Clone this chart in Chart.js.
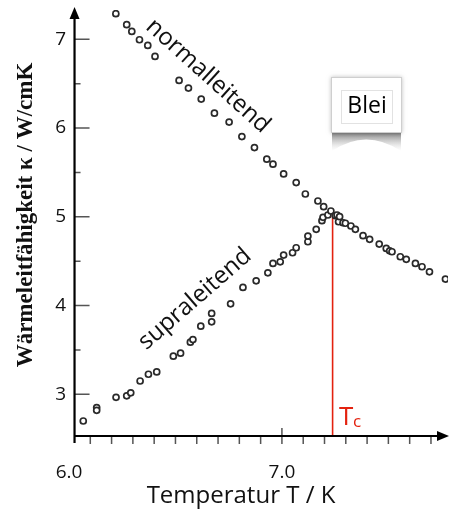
<!DOCTYPE html>
<html>
<head>
<meta charset="utf-8">
<script src="https://cdn.jsdelivr.net/npm/chart.js@4/dist/chart.umd.min.js"></script>
<style>
  html, body { margin: 0; padding: 0; background: #fff; }
  #wrap { width: 455px; height: 513px; }
</style>
</head>
<body>
<div id="wrap"><canvas id="chart" width="455" height="513"></canvas></div>
<script>
// Wärmeleitfähigkeit von Blei: normalleitend vs. supraleitend
const normalT = [6.220, 6.271, 6.295, 6.331, 6.370, 6.404, 6.517, 6.561, 6.621, 6.683,
  6.752, 6.812, 6.871, 6.929, 6.958, 7.008, 7.067, 7.110, 7.169, 7.196,
  7.230, 7.251, 7.259, 7.266, 7.271, 7.287, 7.298, 7.324, 7.345, 7.381,
  7.412, 7.457, 7.490, 7.506, 7.517, 7.556, 7.584, 7.627, 7.658, 7.693, 7.768];
const normalK = [7.289, 7.165, 7.089, 6.995, 6.931, 6.807, 6.536, 6.450, 6.326, 6.168,
  6.067, 5.904, 5.780, 5.649, 5.593, 5.483, 5.385, 5.257, 5.178, 5.114,
  5.065, 5.012, 5.020, 4.944, 5.001, 4.933, 4.927, 4.896, 4.859, 4.787,
  4.746, 4.693, 4.644, 4.617, 4.606, 4.550, 4.521, 4.475, 4.437, 4.380, 4.298];

const supraT = [6.067, 6.130, 6.130, 6.221, 6.271, 6.290, 6.334, 6.373, 6.412, 6.490,
  6.524, 6.570, 6.582, 6.619, 6.670, 6.670, 6.759, 6.817, 6.879, 6.934,
  6.958, 6.992, 7.008, 7.050, 7.067, 7.122, 7.122, 7.161, 7.188, 7.193, 7.216];
const supraK = [2.699, 2.850, 2.819, 2.966, 2.983, 3.017, 3.150, 3.226, 3.252, 3.429,
  3.463, 3.587, 3.617, 3.767, 3.816, 3.911, 4.019, 4.204, 4.279, 4.369,
  4.475, 4.493, 4.569, 4.595, 4.651, 4.719, 4.783, 4.859, 4.956, 4.994, 5.020];

const xTicks = [6.0, 7.0];
const yTicks = [3, 4, 5, 6, 7];
const xMinorStep = 0.1;
const yMinorTicks = [3.5, 4.5, 5.5, 6.5];

const Tc = 7.238;
const kTc = 5.02;
const yAxisAt = 6.026;

const sans = '"Open Sans", "Liberation Sans", sans-serif';

function pts(xs, ys) {
  return xs.map((x, i) => ({ x: x, y: ys[i] }));
}

// axes with arrows, tick marks, Tc line
const axesPlugin = {
  id: 'axes',
  beforeDatasetsDraw(chart) {
    const { ctx, chartArea: a, scales: { x, y } } = chart;
    const x0 = x.getPixelForValue(yAxisAt);
    const y0 = a.bottom;
    ctx.save();

    // red Tc line
    ctx.strokeStyle = '#e3220f';
    ctx.lineWidth = 1.6;
    ctx.beginPath();
    ctx.moveTo(x.getPixelForValue(Tc), y.getPixelForValue(kTc));
    ctx.lineTo(x.getPixelForValue(Tc), y0);
    ctx.stroke();

    // tick marks
    ctx.strokeStyle = '#555';
    ctx.lineWidth = 1.5;
    ctx.beginPath();
    for (let i = 1; i * xMinorStep + x.min < x.max - 0.05; i++) {
      const v = x.min + i * xMinorStep;
      const px = x.getPixelForValue(v);
      const major = xTicks.some(t => Math.abs(t - v) < 1e-6);
      ctx.moveTo(px, major ? y0 - 8 : y0);
      ctx.lineTo(px, y0 + 8);
    }
    yTicks.forEach(v => {
      const py = y.getPixelForValue(v);
      ctx.moveTo(x0, py);
      ctx.lineTo(x0 + 15, py);
    });
    yMinorTicks.forEach(v => {
      const py = y.getPixelForValue(v);
      ctx.moveTo(x0, py);
      ctx.lineTo(x0 + 6, py);
    });
    ctx.stroke();

    // axis lines
    ctx.strokeStyle = '#000';
    ctx.fillStyle = '#000';
    ctx.lineWidth = 2.2;
    ctx.beginPath();
    ctx.moveTo(x0, y0 + 7);
    ctx.lineTo(x0, a.top + 6);
    ctx.moveTo(x0 - 1, y0);
    ctx.lineTo(a.right - 6, y0);
    ctx.stroke();
    ctx.beginPath();
    ctx.moveTo(x0, a.top - 3);
    ctx.lineTo(x0 - 5, a.top + 9);
    ctx.lineTo(x0 + 5, a.top + 9);
    ctx.closePath();
    ctx.fill();
    ctx.beginPath();
    ctx.moveTo(a.right + 1, y0);
    ctx.lineTo(a.right - 11, y0 - 5);
    ctx.lineTo(a.right - 11, y0 + 5);
    ctx.closePath();
    ctx.fill();
    ctx.restore();
  },
  afterDraw(chart) {
    const { ctx } = chart;
    ctx.save();

    // axis titles
    ctx.fillStyle = '#111';
    ctx.font = '24px ' + sans;
    ctx.textAlign = 'center';
    ctx.textBaseline = 'alphabetic';
    ctx.fillText('Temperatur T / K', 241, 503);

    ctx.save();
    ctx.translate(32, 215);
    ctx.rotate(-Math.PI / 2);
    ctx.font = 'bold 23px "Liberation Serif", "DejaVu Serif", serif';
    ctx.fillText('Wärmeleitfähigkeit κ / W/cmK', 0, 0);
    ctx.restore();

    // curve labels
    ctx.font = '24px ' + sans;
    ctx.textBaseline = 'middle';
    ctx.save();
    ctx.translate(208, 76);
    ctx.rotate(42 * Math.PI / 180);
    ctx.fillText('normalleitend', 0, 0);
    ctx.restore();
    ctx.save();
    ctx.translate(195, 299);
    ctx.rotate(-41 * Math.PI / 180);
    ctx.fillText('supraleitend', 0, 0);
    ctx.restore();

    // Tc label
    ctx.fillStyle = '#e3220f';
    ctx.textAlign = 'left';
    ctx.textBaseline = 'alphabetic';
    ctx.font = '26px ' + sans;
    ctx.fillText('T', 339, 425);
    ctx.font = '17px ' + sans;
    ctx.fillText('c', 353, 427);

    // "Blei" tag with page-curl shadow
    const sg = ctx.createLinearGradient(0, 133, 0, 151);
    sg.addColorStop(0, 'rgba(90,90,90,0.75)');
    sg.addColorStop(1, 'rgba(200,200,200,0)');
    ctx.fillStyle = sg;
    ctx.beginPath();
    ctx.moveTo(332, 133);
    ctx.lineTo(401, 133);
    ctx.lineTo(401, 151);
    ctx.quadraticCurveTo(366, 128, 332, 151);
    ctx.closePath();
    ctx.fill();

    ctx.shadowColor = 'rgba(0,0,0,0.25)';
    ctx.shadowBlur = 4;
    ctx.fillStyle = '#fff';
    ctx.fillRect(331, 77, 71, 56);
    ctx.shadowBlur = 0;
    ctx.shadowColor = 'transparent';
    ctx.strokeStyle = '#cfcfcf';
    ctx.lineWidth = 1;
    ctx.strokeRect(331.5, 77.5, 70, 55);
    ctx.strokeStyle = '#e2e2e2';
    ctx.strokeRect(341.5, 90.5, 51, 33);
    ctx.fillStyle = '#000';
    ctx.textAlign = 'center';
    ctx.textBaseline = 'middle';
    ctx.font = '23px ' + sans;
    ctx.fillText('Blei', 367, 106);
    ctx.restore();
  }
};

const pointStyle = {
  showLine: false,
  pointRadius: 3,
  pointBorderWidth: 1.7,
  pointBorderColor: '#2a2a2a',
  pointBackgroundColor: '#fff'
};

new Chart(document.getElementById('chart'), {
  type: 'scatter',
  data: {
    datasets: [
      Object.assign({ label: 'normalleitend', data: pts(normalT, normalK) }, pointStyle),
      Object.assign({ label: 'supraleitend', data: pts(supraT, supraK) }, pointStyle)
    ]
  },
  options: {
    responsive: false,
    animation: false,
    devicePixelRatio: 1,
    layout: { padding: { top: 10, right: 7, left: 0, bottom: 0 } },
    plugins: {
      legend: { display: false },
      tooltip: { enabled: false }
    },
    scales: {
      x: {
        type: 'linear',
        min: 6.0,
        max: 7.78,
        grid: { display: false, drawTicks: false, tickLength: 0 },
        border: { display: false },
        afterBuildTicks: s => { s.ticks = xTicks.map(v => ({ value: v })); },
        afterFit: s => { s.height = 77; s.paddingLeft = 0; s.paddingRight = 0; },
        ticks: {
          autoSkip: false,
          maxRotation: 0,
          padding: 25,
          color: '#111',
          font: { family: sans, size: 19 },
          callback: v => Number(v).toFixed(1)
        }
      },
      y: {
        type: 'linear',
        min: 2.53,
        max: 7.33,
        grid: { display: false, drawTicks: false, tickLength: 0 },
        border: { display: false },
        afterBuildTicks: s => { s.ticks = yTicks.map(v => ({ value: v })); },
        afterFit: s => { s.width = 69; s.paddingTop = 0; s.paddingBottom = 0; },
        ticks: {
          padding: 3,
          color: '#111',
          font: { family: sans, size: 19 },
          callback: v => String(v)
        }
      }
    }
  },
  plugins: [axesPlugin]
});
</script>
</body>
</html>
